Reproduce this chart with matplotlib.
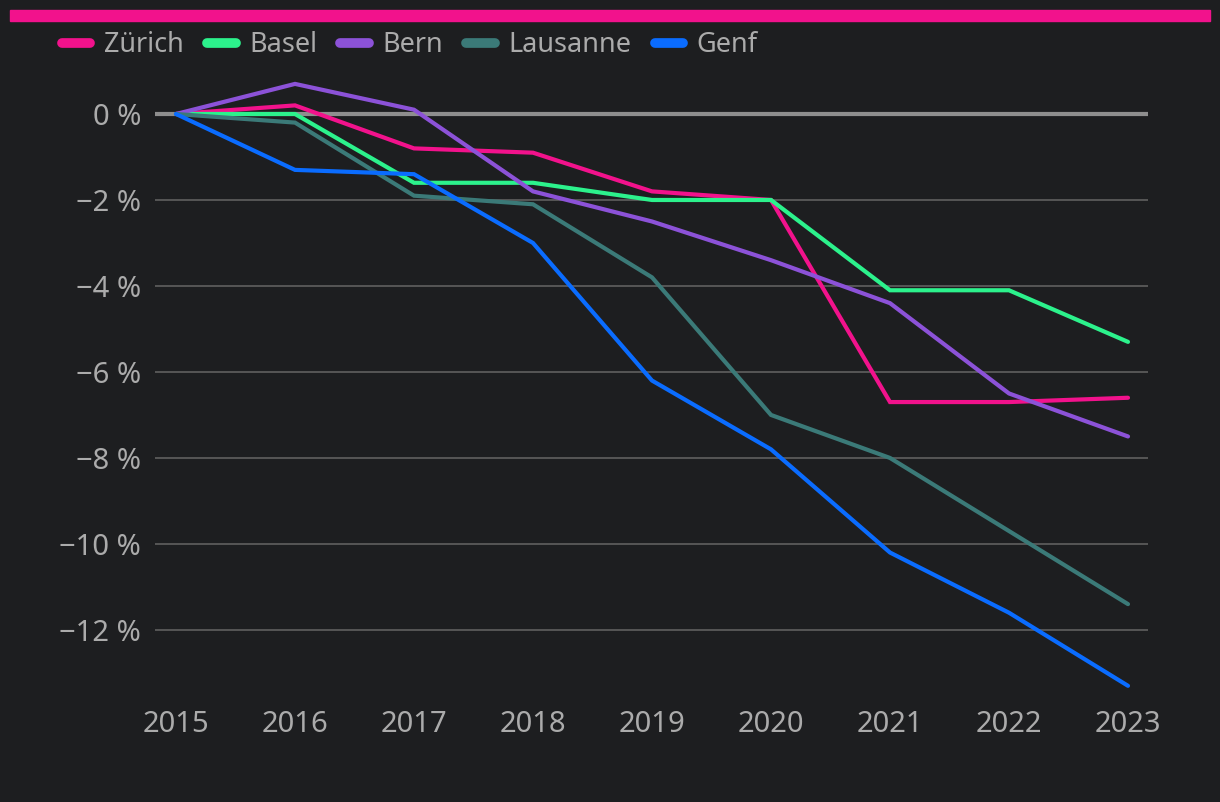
import matplotlib
matplotlib.use("Agg")
import matplotlib.pyplot as plt
from matplotlib.lines import Line2D
from matplotlib.patches import Rectangle

years = [2015, 2016, 2017, 2018, 2019, 2020, 2021, 2022, 2023]
zuerich = [0, 0.2, -0.8, -0.9, -1.8, -2.0, -6.7, -6.7, -6.6]
basel = [0, 0.0, -1.6, -1.6, -2.0, -2.0, -4.1, -4.1, -5.3]
bern = [0, 0.7, 0.1, -1.8, -2.5, -3.4, -4.4, -6.5, -7.5]
lausanne = [0, -0.2, -1.9, -2.1, -3.8, -7.0, -8.0, -9.7, -11.4]
genf = [0, -1.3, -1.4, -3.0, -6.2, -7.8, -10.2, -11.6, -13.3]
names = ["Zürich", "Basel", "Bern", "Lausanne", "Genf"]
colors = ["#f2128c", "#2cf28c", "#8c52d8", "#3b7a78", "#0a6cff"]
yticks = [0, -2, -4, -6, -8, -10, -12]

plt.rcParams['font.family'] = ['Noto Sans', 'DejaVu Sans']
bg = "#1d1e20"
txt = "#ababab"
fig = plt.figure(figsize=(12.2, 8.02), dpi=100, facecolor=bg)
ax = fig.add_axes([155/1220, 1 - 700/802, (1148-155)/1220, (700-71)/802])
ax.set_facecolor(bg)

for yt in yticks:
    if yt == 0:
        continue
    ax.axhline(yt, color="#5a5a5a", lw=1.3, zorder=1)
ax.axhline(0, color="#8e8e8e", lw=3, zorder=1)

series = [zuerich, basel, bern, lausanne, genf]
for s, c in zip(series, colors):
    ax.plot(years, s, color=c, lw=3, zorder=3, solid_capstyle="round", solid_joinstyle="miter")

ax.set_xlim(2015 - 21/119, 2023 + 20/119)
ax.set_ylim(-13.63, 1.0)
ax.set_yticks(yticks)
ax.set_yticklabels([("−" if v < 0 else "") + f"{abs(v)} %" for v in yticks])
ax.set_xticks(years)
ax.set_xticklabels([str(y) for y in years])
ax.tick_params(axis="both", length=0, labelsize=21, labelcolor=txt)
ax.tick_params(axis="y", pad=10)
ax.tick_params(axis="x", pad=7)
for sp in ax.spines.values():
    sp.set_visible(False)

fig.patches.append(Rectangle((10/1220, 1 - 21/802), 1200/1220, 11/802,
                             transform=fig.transFigure, color="#f2128c", zorder=5))

handles = [Line2D([0], [0], color=c, lw=7, solid_capstyle="round") for c in colors]
leg = fig.legend(handles, names, loc="center left", bbox_to_anchor=(62/1220, 1 - 45/802),
                 ncol=5, frameon=False, fontsize=19.5, labelcolor=txt,
                 handlelength=1.05, handletextpad=0.5, columnspacing=0.86,
                 borderaxespad=0, borderpad=0)

fig.savefig("out.png", dpi=100, facecolor=bg)
